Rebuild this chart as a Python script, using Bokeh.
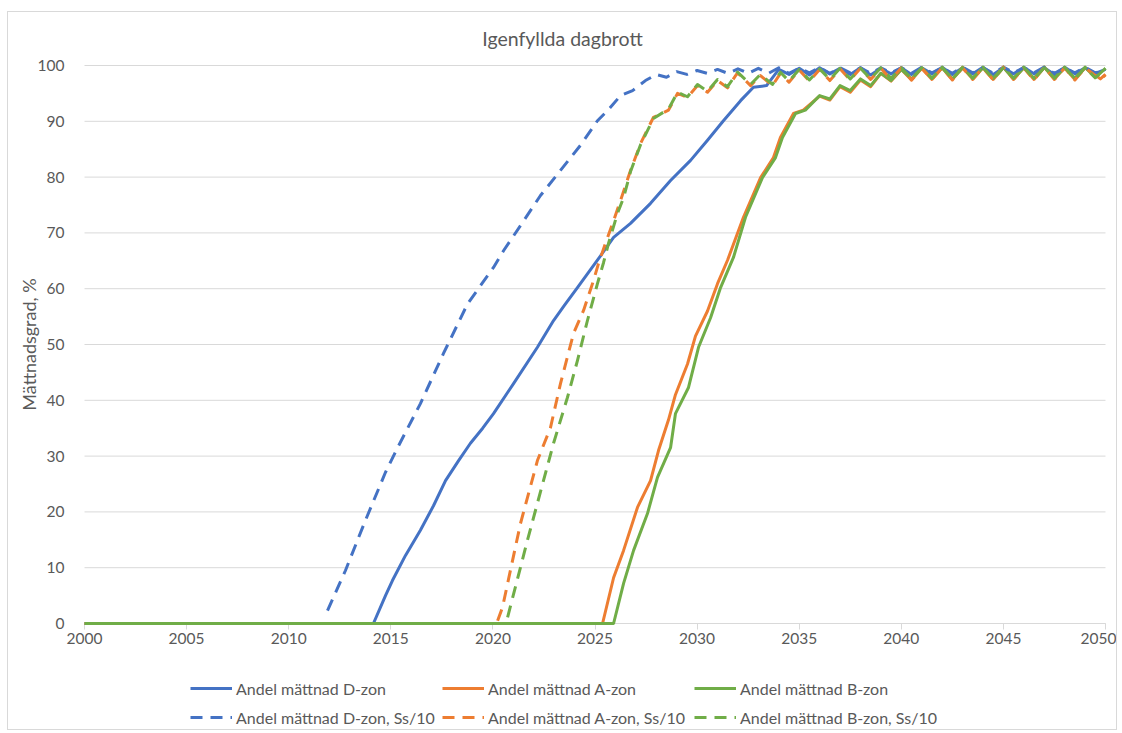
import math
from bokeh.plotting import figure
from bokeh.models import Legend, LegendItem, FixedTicker, Range1d, Label
from bokeh.embed import file_html
from bokeh.resources import INLINE

title_text = "Igenfyllda dagbrott"
y_label = "Mättnadsgrad, %"
x_ticks = [2000, 2005, 2010, 2015, 2020, 2025, 2030, 2035, 2040, 2045, 2050]
y_ticks = [0, 10, 20, 30, 40, 50, 60, 70, 80, 90, 100]

labels = ["Andel mättnad D-zon", "Andel mättnad A-zon", "Andel mättnad B-zon",
          "Andel mättnad D-zon, Ss/10", "Andel mättnad A-zon, Ss/10", "Andel mättnad B-zon, Ss/10"]

# --- Andel mättnad D-zon (solid blue)
d_year = [2000.0, 2014.15, 2014.74, 2015.08, 2015.72, 2016.45, 2017.09, 2017.68, 2018.32, 2018.90,
          2019.5, 2020.03, 2021.01, 2022.18, 2022.97, 2023.5, 2024.14, 2025.27, 2025.91, 2026.74,
          2027.72, 2028.70, 2029.68, 2030.51, 2031.29, 2032.13, 2032.76, 2033.40, 2034.0,
          2034.5, 2035.0, 2035.5, 2036.0, 2036.5, 2037.0, 2037.5, 2038.0, 2038.5, 2039.0,
          2039.5, 2040.0, 2040.5, 2041.0, 2041.5, 2042.0, 2042.5, 2043.0, 2043.5, 2044.0,
          2044.5, 2045.0, 2045.5, 2046.0, 2046.5, 2047.0, 2047.5, 2048.0, 2048.5, 2049.0,
          2049.5, 2050.0]
d_val = [0, 0, 5.0, 7.7, 12.2, 16.7, 21.1, 25.6, 29.2, 32.3,
         35.0, 37.6, 43.0, 49.5, 54.3, 57.0, 60.2, 65.9, 69.2, 71.7,
         75.3, 79.4, 83.0, 86.6, 90.1, 93.7, 96.1, 96.4, 99.3,
         98.4, 99.5, 98.3, 99.6, 98.5, 99.5, 98.4, 99.6, 98.3, 99.5,
         98.5, 99.6, 98.4, 99.6, 98.5, 99.7, 98.4, 99.6, 98.5, 99.7,
         98.4, 99.6, 98.5, 99.7, 98.5, 99.6, 98.4, 99.7, 98.5, 99.6,
         98.6, 99.3]

# --- Andel mättnad A-zon (solid orange)
a_year = [2000.0, 2025.37, 2025.91, 2026.40, 2027.08, 2027.72, 2028.11, 2028.60, 2028.94, 2029.53,
          2029.92, 2030.51, 2031.00, 2031.49, 2032.27, 2033.11, 2033.74, 2034.08, 2034.72, 2035.2,
          2036.0, 2036.5, 2037.0, 2037.5, 2038.0, 2038.5, 2039.0, 2039.5, 2040.0,
          2040.5, 2041.0, 2041.5, 2042.0, 2042.5, 2043.0, 2043.5, 2044.0, 2044.5, 2045.0,
          2045.5, 2046.0, 2046.5, 2047.0, 2047.5, 2048.0, 2048.5, 2049.0, 2049.75, 2050.0]
a_val = [0, 0, 8.2, 13.1, 20.8, 25.6, 31.0, 36.5, 41.0, 46.5,
         51.5, 56.0, 60.9, 65.1, 72.8, 79.9, 83.5, 87.1, 91.4, 92.0,
         94.5, 93.8, 96.2, 95.2, 97.4, 96.2, 98.6, 97.2, 99.3,
         97.4, 99.5, 97.5, 99.6, 97.5, 99.6, 97.6, 99.6, 97.5, 99.7,
         97.6, 99.6, 97.5, 99.7, 97.6, 99.6, 97.5, 99.6, 97.6, 98.4]

# --- Andel mättnad B-zon (solid green)
b_year = [2000.0, 2025.91, 2026.40, 2026.89, 2027.57, 2028.06, 2028.70, 2028.94, 2029.58, 2030.07,
          2030.66, 2031.15, 2031.78, 2032.37, 2033.2, 2033.84, 2034.18, 2034.82, 2035.3,
          2036.0, 2036.5, 2037.0, 2037.5, 2038.0, 2038.5, 2039.0, 2039.5, 2040.0,
          2040.5, 2041.0, 2041.5, 2042.0, 2042.5, 2043.0, 2043.5, 2044.0, 2044.5, 2045.0,
          2045.5, 2046.0, 2046.5, 2047.0, 2047.5, 2048.0, 2048.5, 2049.0, 2049.5, 2050.0]
b_val = [0, 0, 7.2, 13.1, 19.7, 26.2, 31.5, 37.6, 42.3, 49.5,
         54.8, 60.2, 65.6, 72.8, 79.9, 83.5, 87.1, 91.4, 92.0,
         94.6, 94.0, 96.4, 95.5, 97.6, 96.4, 98.6, 97.3, 99.3,
         97.6, 99.6, 97.7, 99.6, 97.6, 99.7, 97.7, 99.6, 97.7, 99.7,
         97.6, 99.6, 97.7, 99.7, 97.7, 99.6, 97.7, 99.7, 97.8, 99.5]

# --- Andel mättnad D-zon, Ss/10 (dashed blue)
dss_year = [2011.90, 2012.78, 2013.76, 2014.74, 2015.33, 2016.45, 2017.58, 2018.76, 2020.03, 2020.52,
            2021.35, 2022.33, 2023.31, 2024.29, 2025.12, 2025.61, 2026.25, 2026.84, 2027.47, 2028.0,
            2028.5, 2029.0, 2029.5, 2030.0, 2030.5, 2031.0, 2031.5, 2032.0, 2032.5, 2033.0,
            2033.5, 2034.0, 2034.5, 2035.0, 2035.5, 2036.0, 2036.5, 2037.0, 2037.5, 2038.0,
            2038.5, 2039.0, 2039.5, 2040.0, 2040.5, 2041.0, 2041.5, 2042.0, 2042.5, 2043.0,
            2043.5, 2044.0, 2044.5, 2045.0, 2045.5, 2046.0, 2046.5, 2047.0, 2047.5, 2048.0,
            2048.5, 2049.0, 2049.5, 2050.0]
dss_val = [2.3, 9.5, 18.5, 27.1, 31.5, 39.4, 48.4, 57.3, 63.8, 66.8,
           71.3, 76.7, 81.2, 85.7, 90.1, 91.9, 94.6, 95.5, 97.3, 98.4,
           97.9, 98.9, 98.4, 99.1, 98.6, 99.3, 98.6, 99.4, 98.6, 99.5,
           98.6, 99.6, 98.6, 99.5, 98.7, 99.6, 98.6, 99.6, 98.7, 99.6,
           98.6, 99.6, 98.7, 99.6, 98.6, 99.7, 98.7, 99.6, 98.6, 99.7,
           98.7, 99.6, 98.6, 99.7, 98.7, 99.6, 98.7, 99.7, 98.6, 99.6,
           98.7, 99.7, 98.7, 99.2]

# --- Andel mättnad A-zon, Ss/10 (dashed orange)
ass_year = [2020.23, 2020.47, 2021.35, 2022.18, 2022.82, 2023.31, 2023.95, 2024.44, 2024.93, 2025.17,
            2025.51, 2025.91, 2026.25, 2026.74, 2027.23, 2027.86, 2028.60, 2029.04, 2029.53, 2030.02,
            2030.51, 2031.0, 2031.49, 2031.98, 2032.62, 2033.1, 2033.69, 2034.08, 2034.5, 2035.0,
            2035.5, 2036.0, 2036.5, 2037.0, 2037.5, 2038.0, 2038.5, 2039.0, 2039.5, 2040.0,
            2040.5, 2041.0, 2041.5, 2042.0, 2042.5, 2043.0, 2043.5, 2044.0, 2044.5, 2045.0,
            2045.5, 2046.0, 2046.5, 2047.0, 2047.5, 2048.0, 2048.5, 2049.0, 2049.75, 2050.0]
ass_val = [0.5, 2.9, 17.9, 29.2, 35.1, 43.0, 52.0, 56.1, 61.5, 64.5,
           68.1, 72.2, 75.8, 81.2, 86.0, 90.7, 92.0, 95.0, 94.3, 96.4,
           95.2, 97.3, 96.0, 98.7, 96.4, 98.2, 96.4, 98.6, 97.0, 99.2,
           97.2, 99.3, 97.3, 99.4, 97.4, 99.5, 97.5, 99.5, 97.5, 99.6,
           97.4, 99.5, 97.5, 99.6, 97.4, 99.6, 97.5, 99.6, 97.4, 99.7,
           97.5, 99.6, 97.4, 99.7, 97.5, 99.6, 97.4, 99.6, 97.5, 98.3]

# --- Andel mättnad B-zon, Ss/10 (dashed green)
bss_year = [2020.72, 2021.69, 2022.97, 2023.65, 2024.14, 2024.63, 2025.12, 2025.42, 2025.66, 2026.10,
            2026.40, 2026.74, 2027.23, 2027.86, 2028.60, 2029.04, 2029.53, 2030.02, 2030.51, 2031.0,
            2031.49, 2031.98, 2032.62, 2033.1, 2033.69, 2034.08, 2034.5, 2035.0, 2035.5, 2036.0,
            2036.5, 2037.0, 2037.5, 2038.0, 2038.5, 2039.0, 2039.5, 2040.0, 2040.5, 2041.0,
            2041.5, 2042.0, 2042.5, 2043.0, 2043.5, 2044.0, 2044.5, 2045.0, 2045.5, 2046.0,
            2046.5, 2047.0, 2047.5, 2048.0, 2048.5, 2049.0, 2049.5, 2050.0]
bss_val = [1.1, 14.9, 32.3, 40.5, 47.1, 54.3, 60.9, 64.7, 68.1, 73.5,
           76.3, 81.0, 85.8, 90.5, 92.2, 95.2, 94.4, 96.6, 95.4, 97.5,
           96.2, 98.8, 96.6, 98.4, 96.6, 98.8, 97.2, 99.3, 97.4, 99.4,
           97.5, 99.5, 97.6, 99.5, 97.6, 99.6, 97.7, 99.6, 97.6, 99.6,
           97.7, 99.7, 97.6, 99.6, 97.7, 99.7, 97.6, 99.6, 97.7, 99.7,
           97.6, 99.6, 97.7, 99.7, 97.6, 99.6, 97.8, 99.5]

BLUE, ORANGE, GREEN = "#4472C4", "#ED7D31", "#70AD47"
TEXT = "#595959"
GRID = "#D9D9D9"
FONT = "Lato"

# ---- layout (page pixels): canvas 8..1118 x 12..731, plot area 84..1105 x 65..623
CANVAS_L, CANVAS_R, CANVAS_T, CANVAS_B = 8, 1118, 12, 731
AREA_L, AREA_R, AREA_T, AREA_B = 84, 1105, 65, 623
TITLE_CX, TITLE_CY = 562, 38
YLAB_CX = 28
px_per_x = (AREA_R - AREA_L) / (x_ticks[-1] - x_ticks[0])
px_per_y = (AREA_B - AREA_T) / (y_ticks[-1] - y_ticks[0])
x_start = x_ticks[0] - (AREA_L - CANVAS_L) / px_per_x
x_end = x_ticks[-1] + (CANVAS_R - AREA_R) / px_per_x
y_start = y_ticks[0] - (CANVAS_B - AREA_B) / px_per_y
y_end = y_ticks[-1] + (AREA_T - CANVAS_T) / px_per_y

# the frame fills the whole canvas so that axes, titles and legend are never clipped
p = figure(width=CANVAS_R - CANVAS_L, height=CANVAS_B - CANVAS_T, output_backend="svg",
           toolbar_location=None, title=None,
           x_range=Range1d(x_start, x_end), y_range=Range1d(y_start, y_end),
           min_border_left=0, min_border_right=0, min_border_top=0, min_border_bottom=0)
p.styles = {"border": "1px solid #D9D9D9", "margin-left": "7px", "margin-top": "11px"}
p.outline_line_color = None
p.background_fill_color = "white"
p.border_fill_color = "white"

# gridlines only across the plot area
p.xgrid.visible = False
p.ygrid.visible = False
p.segment(x0=x_ticks[0], x1=x_ticks[-1], y0=y_ticks, y1=y_ticks, line_color=GRID, line_width=1)

# x axis pinned at y = 0
xax = p.xaxis[0]
xax.fixed_location = 0
xax.bounds = (x_ticks[0], x_ticks[-1])
xax.level = "underlay"
xax.ticker = FixedTicker(ticks=x_ticks)
xax.axis_line_color = GRID
xax.major_tick_line_color = GRID
xax.major_tick_out = 6
xax.major_tick_in = 0
xax.minor_tick_line_color = None
xax.major_label_text_font = FONT
xax.major_label_text_font_size = "15.5px"
xax.major_label_text_color = TEXT
xax.major_label_standoff = 3

# y axis pinned at x = 2000
yax = p.yaxis[0]
yax.fixed_location = x_ticks[0]
yax.bounds = (y_ticks[0], y_ticks[-1])
yax.ticker = FixedTicker(ticks=y_ticks)
yax.axis_line_color = None
yax.major_tick_line_color = None
yax.minor_tick_line_color = None
yax.major_label_text_font = FONT
yax.major_label_text_font_size = "15.5px"
yax.major_label_text_color = TEXT
yax.major_label_standoff = 14

# chart title
p.add_layout(Label(x=x_ticks[0] + (TITLE_CX - AREA_L) / px_per_x,
                   y=y_ticks[-1] + (AREA_T - TITLE_CY) / px_per_y,
                   text=title_text, text_align="center", text_baseline="middle",
                   text_font=FONT, text_font_size="19.5px", text_color=TEXT))

# y-axis title, centred on the 0..100 span
p.add_layout(Label(x=x_ticks[0] - (AREA_L - YLAB_CX) / px_per_x, y=(y_ticks[0] + y_ticks[-1]) / 2,
                   text=y_label, angle=math.pi / 2, text_align="center", text_baseline="middle",
                   text_font=FONT, text_font_size="18px", text_color=TEXT))

W = 3
DASH = "12 8"
r_d = p.line(d_year, d_val, line_color=BLUE, line_width=W, line_join="round")
r_a = p.line(a_year, a_val, line_color=ORANGE, line_width=W, line_join="round")
r_b = p.line(b_year, b_val, line_color=GREEN, line_width=W, line_join="round")
r_dss = p.line(dss_year, dss_val, line_color=BLUE, line_width=W, line_dash=DASH, line_join="round")
r_ass = p.line(ass_year, ass_val, line_color=ORANGE, line_width=W, line_dash=DASH, line_join="round")
r_bss = p.line(bss_year, bss_val, line_color=GREEN, line_width=W, line_dash=DASH, line_join="round")

rends = [r_d, r_a, r_b, r_dss, r_ass, r_bss]


def make_legend(items, loc):
    lg = Legend(items=items, location=loc, orientation="horizontal")
    lg.label_text_font = FONT
    lg.label_text_font_size = "16px"
    lg.label_text_color = TEXT
    lg.glyph_width = 42
    lg.glyph_height = 20
    lg.label_standoff = 4
    lg.label_width = 206
    lg.label_height = 20
    lg.spacing = 0
    lg.padding = 0
    lg.margin = 0
    lg.border_line_color = None
    lg.background_fill_alpha = 0
    return lg


leg_x = 190 - CANVAS_L
leg1 = make_legend([LegendItem(label=labels[i], renderers=[rends[i]]) for i in range(3)],
                   (leg_x, CANVAS_B - 698))
leg2 = make_legend([LegendItem(label=labels[i], renderers=[rends[i]]) for i in range(3, 6)],
                   (leg_x, CANVAS_B - 727))
p.add_layout(leg1, "center")
p.add_layout(leg2, "center")

open("out.html", "w").write(file_html(p, INLINE))
